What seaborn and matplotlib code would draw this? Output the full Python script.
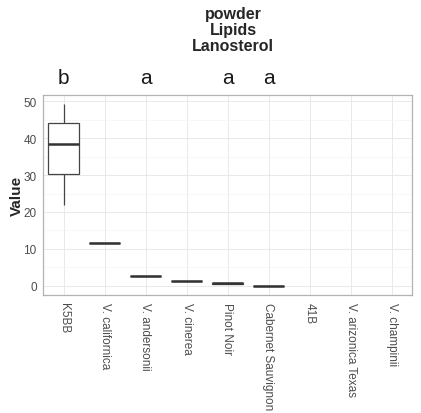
import pandas as pd
import matplotlib
matplotlib.use("Agg")
import matplotlib.pyplot as plt
import matplotlib.transforms as mtransforms
from matplotlib.ticker import MultipleLocator
import seaborn as sns

# categories on the x axis
genotypes = ["K5BB", "V. californica", "V. andersonii", "V. cinerea", "Pinot Noir",
             "Cabernet Sauvignon", "41B", "V. arizonica Texas", "V. champinii"]

# replicate values (empty groups have no data)
k5bb = [22.0, 30.3, 38.5, 44.0, 49.2]
californica = [11.7, 11.7, 11.7]
andersonii = [2.6, 2.6, 2.6]
cinerea = [1.2, 1.2, 1.2]
pinot = [0.5, 0.7, 0.9]
cabernet = [0.1, 0.1, 0.1]

# significance letters above the boxes
letter_groups = ["K5BB", "V. andersonii", "Pinot Noir", "Cabernet Sauvignon"]
letters = ["b", "a", "a", "a"]

rows = []
for name, vals in zip(genotypes[:6], [k5bb, californica, andersonii, cinerea, pinot, cabernet]):
    for v in vals:
        rows.append({"genotype": name, "Value": v})
df = pd.DataFrame(rows)

sns.set_style("white")
plt.rcParams["font.family"] = ["Liberation Sans", "DejaVu Sans"]

fig = plt.figure(figsize=(4.21, 4.14), dpi=100)
ax = fig.add_axes([43 / 421, 118 / 414, 369 / 421, 200 / 414])

line_col = "#444444"
sns.boxplot(data=df, x="genotype", y="Value", order=genotypes, ax=ax,
            width=0.75, color="white", linecolor=line_col, linewidth=0.9,
            showfliers=False, showcaps=False,
            medianprops={"linewidth": 1.8, "color": "#333333"})

ax.set_ylim(-2.46, 51.66)
ax.yaxis.set_major_locator(MultipleLocator(10))
ax.yaxis.set_minor_locator(MultipleLocator(5))
ax.set_xticks(range(len(genotypes)), minor=False)
ax.grid(True, which="major", color="#e5e5e5", linewidth=0.6)
ax.grid(True, which="minor", axis="y", color="#f2f2f2", linewidth=0.4)
ax.set_axisbelow(True)
for sp in ax.spines.values():
    sp.set_color("#b3b3b3")
    sp.set_linewidth(0.9)

ax.tick_params(axis="both", which="major", length=3, width=0.6, color="#b3b3b3",
               labelcolor="#4d4d4d", labelsize=8.5)
ax.tick_params(axis="x", which="major", pad=2)
ax.tick_params(axis="y", which="major", pad=1.5)
ax.tick_params(which="minor", length=0)
ax.set_xticklabels(genotypes, rotation=270, ha="center", va="top")
ax.set_xlabel("")
ax.set_ylabel("Value", fontsize=11, fontweight="bold", labelpad=0)

trans = mtransforms.blended_transform_factory(ax.transData, ax.transAxes)
for g, l in zip(letter_groups, letters):
    ax.text(genotypes.index(g), 1.04, l, transform=trans, ha="center", va="bottom",
            fontsize=15, color="#1a1a1a", clip_on=False)

fig.text(233 / 421, 1 - 7 / 414, "powder\nLipids\nLanosterol", ha="center", va="top",
         fontsize=11.5, fontweight="bold", linespacing=1.08)

fig.savefig("out.png", dpi=100, facecolor="white")
